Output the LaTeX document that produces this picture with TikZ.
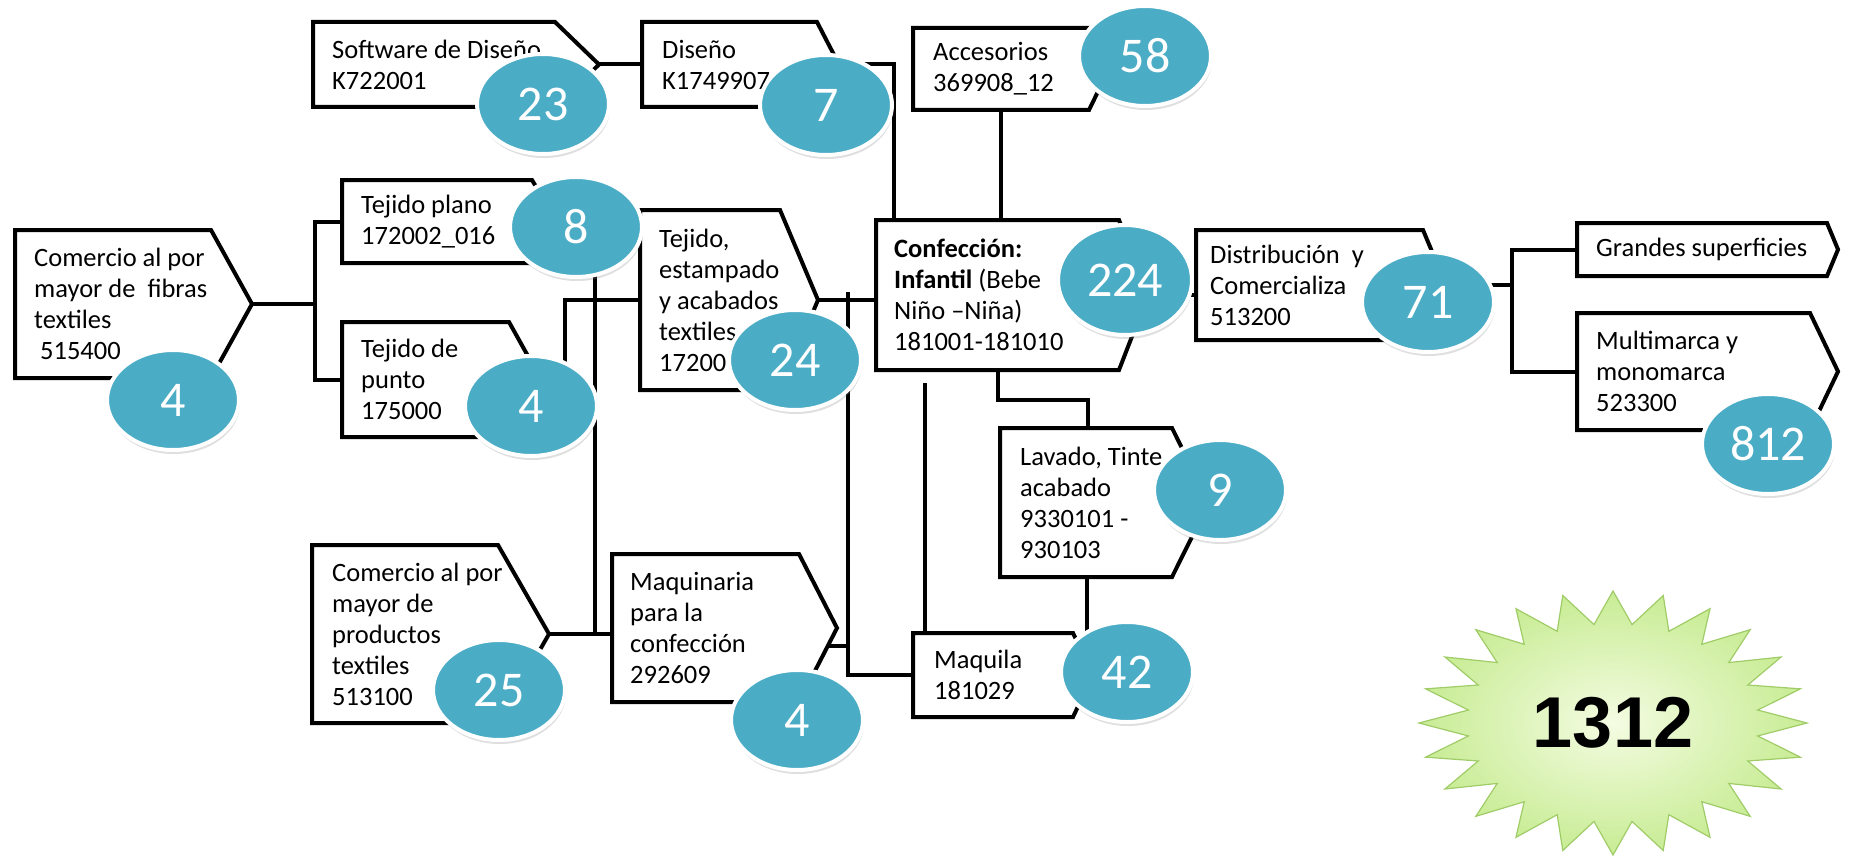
\documentclass[tikz,border=0pt]{standalone}
\usepackage{fontspec}
\setmainfont{Carlito}
\newfontfamily\burstfont{Liberation Sans}
\usepackage{tikz}
\usetikzlibrary{positioning,shapes.geometric,shadows}

\definecolor{badgeblue}{HTML}{4BACC6}
\definecolor{burstin}{RGB}{244,252,226}
\definecolor{burstout}{RGB}{200,236,148}
\definecolor{burstline}{RGB}{160,204,104}

% outline of a box with its point on the right
\newcommand{\plate}[2]{\draw[edge] (#1.north west) -- (#1.north east) -- ([xshift=#2]#1.east) coordinate (#1-tip) -- (#1.south east) -- (#1.south west) -- cycle;}

\begin{document}
\begin{tikzpicture}[x=1pt,y=-1pt,
    edge/.style={line width=4pt,black},
    body/.style={anchor=north west,inner sep=0pt,outer sep=0pt},
    txt/.style={align=left,inner sep=0pt,font=\fontsize{26.5}{31}\selectfont},
    badge/.style={ellipse,fill=badgeblue,draw=white,line width=4pt,minimum width=132pt,minimum height=100pt,inner sep=0pt,text=white,font=\fontsize{50}{50}\selectfont,drop shadow={opacity=0.25,shadow xshift=1pt,shadow yshift=-4pt}},
    burst/.style={star,star points=24,star point ratio=1.33,minimum size=264pt,inner sep=0pt,draw=burstline,line width=1.2pt,shading=radial,inner color=burstin,outer color=burstout}]
    \useasboundingbox (0,0) rectangle (1854,856);

    % Software de Diseño
    \node[body,minimum width=242pt,minimum height=85pt] (sw) at (313,22) {};
    \plate{sw}{44pt}
    \node[txt,right=19pt of sw.west] (sw-txt) {Software de Diseño\\K722001};

    % Diseño
    \node[body,minimum width=175pt,minimum height=85pt] (dis) at (642,22) {};
    \plate{dis}{22pt}
    \node[txt,right=20pt of dis.west] (dis-txt) {Diseño\\K1749907};

    % Accesorios
    \node[body,minimum width=176pt,minimum height=82pt] (acc) at (913,28) {};
    \plate{acc}{20pt}
    \node[txt,right=20pt of acc.west] (acc-txt) {Accesorios\\369908\_12};

    % Comercio fibras
    \node[body,minimum width=196pt,minimum height=148pt] (cf) at (15,230) {};
    \plate{cf}{41pt}
    \node[txt,right=19pt of cf.west] (cf-txt) {Comercio al por\\mayor de \ fibras\\textiles\\\ 515400};

    % Tejido plano
    \node[body,minimum width=190pt,minimum height=83pt] (tp) at (342,180) {};
    \plate{tp}{25pt}
    \node[txt,right=19pt of tp.west] (tp-txt) {Tejido plano\\172002\_016};

    % Tejido de punto
    \node[body,minimum width=167pt,minimum height=115pt] (tdp) at (342,322) {};
    \plate{tdp}{32pt}
    \node[txt,right=19pt of tdp.west] (tdp-txt) {Tejido de\\punto\\175000};

    % Tejido, estampado
    \node[body,minimum width=140pt,minimum height=180pt] (tea) at (640,210) {};
    \plate{tea}{38pt}
    \node[txt,right=19pt of tea.west] (tea-txt) {Tejido,\\estampado\\y acabados\\textiles\\17200};

    % Comercio productos
    \node[body,minimum width=186pt,minimum height=178pt] (cp) at (312,545) {};
    \plate{cp}{51pt}
    \node[txt,right=20pt of cp.west] (cp-txt) {Comercio al por\\mayor de\\productos\\textiles\\513100};

    % Maquinaria
    \node[body,minimum width=187pt,minimum height=148pt] (maq) at (612,554) {};
    \plate{maq}{38pt}
    \node[txt,right=18pt of maq.west] (maq-txt) {Maquinaria\\para la\\confección\\292609};

    % Confección
    \node[body,minimum width=243pt,minimum height=150pt] (con) at (876,220) {};
    \plate{con}{29pt}
    \node[txt,right=18pt of con.west] (con-txt) {\textbf{Confección:}\\\textbf{Infantil} (Bebe\\Niño –Niña)\\181001-181010};

    % Lavado
    \node[body,minimum width=172pt,minimum height=149pt] (lav) at (1000,428) {};
    \plate{lav}{37pt}
    \node[txt,right=20pt of lav.west] (lav-txt) {Lavado, Tinte\\acabado\\9330101 -\\930103};

    % Maquila
    \node[body,minimum width=160pt,minimum height=84pt] (mql) at (913,633) {};
    \plate{mql}{20pt}
    \node[txt,right=21pt of mql.west] (mql-txt) {Maquila\\181029};

    % Distribución
    \node[body,minimum width=227pt,minimum height=110pt] (dc) at (1196,230) {};
    \plate{dc}{23pt}
    \node[txt,right=14pt of dc.west] (dc-txt) {Distribución \ y\\Comercializa\\513200};

    % Grandes superficies
    \node[body,minimum width=250pt,minimum height=53pt] (gs) at (1577,223) {};
    \plate{gs}{11pt}
    \node[txt,right=19pt of gs.west] (gs-txt) {Grandes superficies};

    % Multimarca
    \node[body,minimum width=233pt,minimum height=117pt] (mm) at (1577,313) {};
    \plate{mm}{28pt}
    \node[txt,right=19pt of mm.west] (mm-txt) {Multimarca y\\monomarca\\523300};

    % connectors
    \draw[edge] (sw-tip) -- (dis.west);
    \draw[edge] (dis-tip) -| ([xshift=18pt]con.north west);
    \draw[edge] (acc.south) -- (acc.south |- con.north);
    \draw[edge] (cf-tip) -- ++(63,0) coordinate (fork1);
    \draw[edge] (tp.west) -| (fork1) |- (tdp.west);
    \draw[edge] (tdp-tip) -- ++(24,0) |- (tea.west);
    \draw[edge] (tp-tip) -- ++(38,0) |- (cp-tip);
    \draw[edge] (cp-tip) -- (cp-tip -| maq.west);
    \draw[edge] (tea-tip) -- (tea-tip -| con.west);
    \coordinate (bus) at (848,292);
    \draw[edge] (bus) |- (mql.west);
    \coordinate (maq-out) at ([shift={(-9,18)}]maq-tip);
    \draw[edge] (maq-out) -- (maq-out -| bus);
    \coordinate (con-drop) at ([shift={(49,13)}]con.south west);
    \draw[edge] (con-drop) -- (con-drop |- mql.north);
    \draw[edge] ([xshift=122pt]con.south west) -- ++(0,30) -| ([xshift=88pt]lav.north west);
    \draw[edge] ([xshift=87pt]lav.south west) -- ++(0,80);
    \draw[edge] (con-tip) -- (con-tip -| dc.west);
    \draw[edge] (dc-tip) -- ++(66,0) coordinate (fork2);
    \draw[edge] (gs.west) -| (fork2) |- (mm.west);

    % counts
    \node[badge] (n23) at (543,104) {23};
    \node[badge] (n7) at (826,105) {7};
    \node[badge] (n58) at (1145,56) {58};
    \node[badge] (n4a) at (173,400) {4};
    \node[badge] (n8) at (576,227) {8};
    \node[badge] (n4b) at (531,406) {4};
    \node[badge] (n24) at (795,360) {24};
    \node[badge] (n25) at (499,690) {25};
    \node[badge] (n4c) at (797,720) {4};
    \node[badge,minimum width=134pt,minimum height=110pt] (n224) at (1125,280) {224};
    \node[badge] (n71) at (1428,302) {71};
    \node[badge] (n9) at (1220,490) {9};
    \node[badge] (n42) at (1127,672) {42};
    \node[badge] (n812) at (1768,444) {812};

    % total
    \node[burst,xscale=1.47,transform shape] (burst) at (1613,723) {};
    \node[font=\burstfont\bfseries\fontsize{72}{72}\selectfont] (total) at (burst.center) {1312};
\end{tikzpicture}
\end{document}
